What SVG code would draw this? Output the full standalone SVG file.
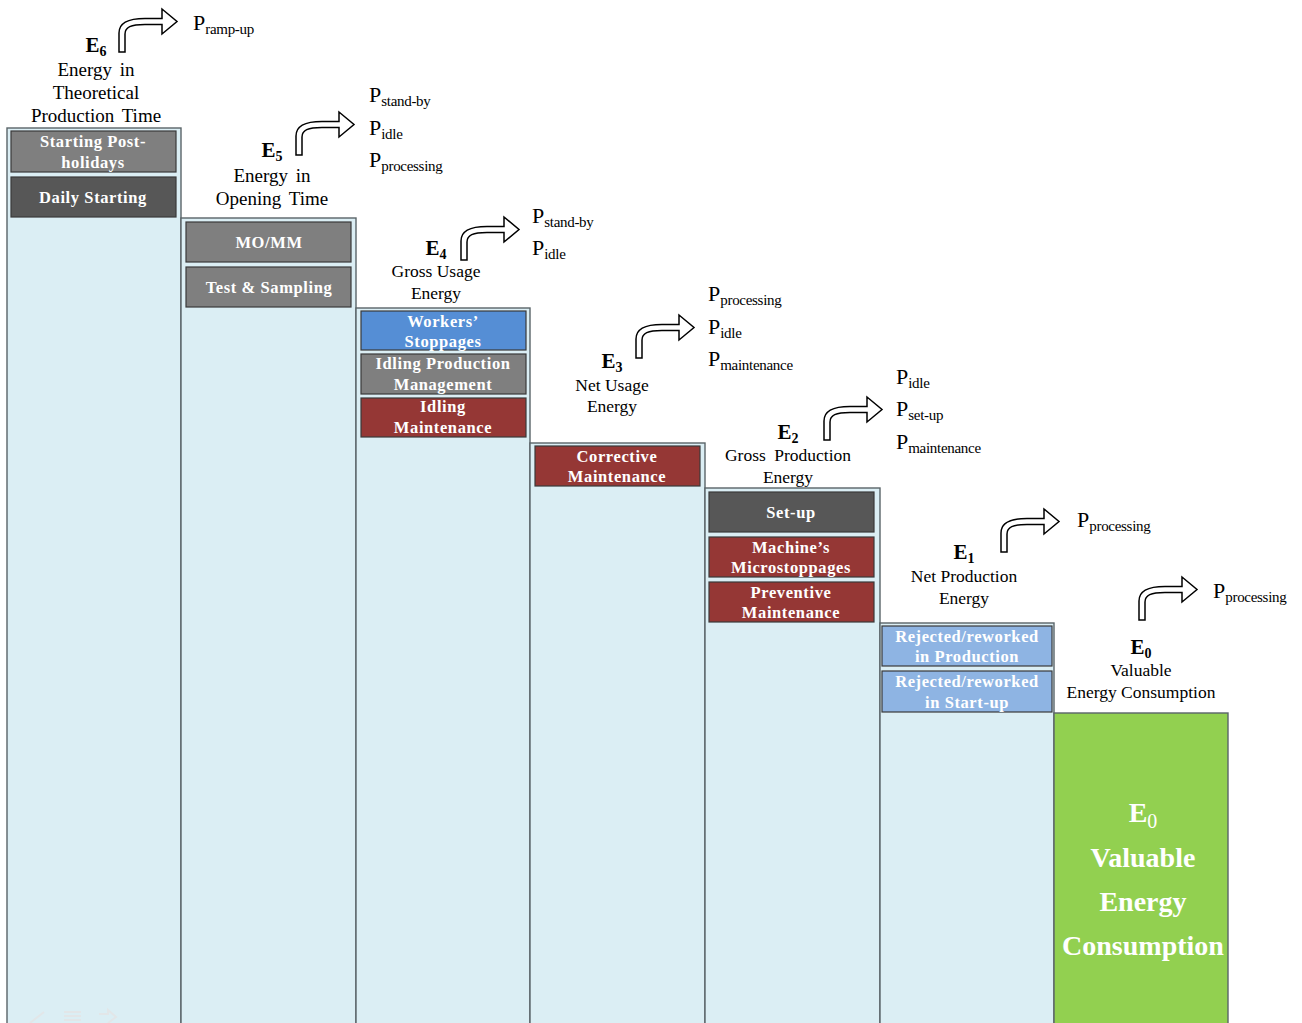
<svg xmlns="http://www.w3.org/2000/svg" width="1302" height="1023" viewBox="0 0 1302 1023">
  <style>
    .col { fill: #DBEEF4; stroke: #5A6468; stroke-width: 1.4; }
    .box { stroke: #3A3A3A; stroke-width: 1.2; }
    .gray { fill: #7F7F7F; }
    .dark { fill: #575757; }
    .blue { fill: #558ED5; }
    .red { fill: #953735; }
    .lblue { fill: #8EB4E3; }
    .bt { font-family: "Liberation Serif", "Times New Roman", serif; font-weight: bold; font-size: 16.5px; letter-spacing: 0.6px; fill: #FFFFFF; text-anchor: middle; }
    .lab { font-family: "Liberation Serif", "Times New Roman", serif; font-size: 17.5px; fill: #000; text-anchor: middle; }
    .labL { font-family: "Liberation Serif", "Times New Roman", serif; font-size: 19px; fill: #000; text-anchor: middle; word-spacing: 3px; }
    .eh { font-family: "Liberation Serif", "Times New Roman", serif; font-weight: bold; font-size: 21px; fill: #000; text-anchor: middle; }
    .es { font-size: 14px; }
    .pm { font-family: "Liberation Serif", "Times New Roman", serif; font-size: 22px; fill: #000; }
    .ps { font-size: 15px; letter-spacing: -0.3px; }
    .arrow { fill: #FFFFFF; stroke: #000; stroke-width: 1.5; stroke-linejoin: miter; }
    .big { font-family: "Liberation Serif", "Times New Roman", serif; font-weight: bold; font-size: 28px; fill: #FFFFFF; text-anchor: middle; }
  </style>
  <defs>
    <!-- bent arrow, origin at the lower-left corner of its stem -->
    <path id="bent" class="arrow" d="M0,0 L0,-19 C0,-29 8,-33.5 26,-33.5 L43,-33.5 L43,-43 L58,-30.5 L43,-18 L43,-27.5 L26,-27.5 C12,-27.5 6,-25 6,-18 L6,0 Z"/>
  </defs>
  <rect width="1302" height="1023" fill="#FFFFFF"/>

  <!-- E6: theoretical production time -->
  <g id="col-e6">
    <rect class="col" x="7" y="128" width="174" height="900"/>
    <rect class="box gray" x="11" y="131" width="165" height="41"/>
    <text class="bt" x="93" y="147">Starting Post-</text>
    <text class="bt" x="93" y="168">holidays</text>
    <rect class="box dark" x="11" y="177" width="165" height="40"/>
    <text class="bt" x="93" y="203">Daily Starting</text>
    <text class="eh" x="96" y="52">E<tspan class="es" dy="4">6</tspan></text>
    <text class="labL" x="96" y="76">Energy in</text>
    <text class="labL" x="96" y="99">Theoretical</text>
    <text class="labL" x="96" y="122">Production Time</text>
  </g>

  <!-- E5: opening time -->
  <g id="col-e5">
    <rect class="col" x="181" y="218" width="175" height="810"/>
    <rect class="box gray" x="186" y="222" width="165" height="40"/>
    <text class="bt" x="269" y="248">MO/MM</text>
    <rect class="box gray" x="186" y="267" width="165" height="40"/>
    <text class="bt" x="269" y="293">Test &amp; Sampling</text>
    <text class="eh" x="272" y="157">E<tspan class="es" dy="4">5</tspan></text>
    <text class="labL" x="272" y="182">Energy in</text>
    <text class="labL" x="272" y="205">Opening Time</text>
  </g>

  <!-- E4: gross usage energy -->
  <g id="col-e4">
    <rect class="col" x="356" y="308" width="174" height="720"/>
    <rect class="box blue" x="361" y="311" width="165" height="39"/>
    <text class="bt" x="443" y="327">Workers’</text>
    <text class="bt" x="443" y="347">Stoppages</text>
    <rect class="box gray" x="361" y="354" width="165" height="40"/>
    <text class="bt" x="443" y="369">Idling  Production</text>
    <text class="bt" x="443" y="390">Management</text>
    <rect class="box red" x="361" y="398" width="165" height="39"/>
    <text class="bt" x="443" y="412">Idling</text>
    <text class="bt" x="443" y="433">Maintenance</text>
    <text class="eh" x="436" y="255">E<tspan class="es" dy="4">4</tspan></text>
    <text class="lab" x="436" y="277">Gross Usage</text>
    <text class="lab" x="436" y="299">Energy</text>
  </g>

  <!-- E3: net usage energy -->
  <g id="col-e3">
    <rect class="col" x="530" y="443" width="175" height="585"/>
    <rect class="box red" x="535" y="446" width="165" height="40"/>
    <text class="bt" x="617" y="462">Corrective</text>
    <text class="bt" x="617" y="482">Maintenance</text>
    <text class="eh" x="612" y="368">E<tspan class="es" dy="4">3</tspan></text>
    <text class="lab" x="612" y="391">Net Usage</text>
    <text class="lab" x="612" y="412">Energy</text>
  </g>

  <!-- E2: gross production energy -->
  <g id="col-e2">
    <rect class="col" x="705" y="488" width="175" height="540"/>
    <rect class="box dark" x="709" y="492" width="165" height="40"/>
    <text class="bt" x="791" y="518">Set-up</text>
    <rect class="box red" x="709" y="537" width="165" height="40"/>
    <text class="bt" x="791" y="553">Machine’s</text>
    <text class="bt" x="791" y="573">Microstoppages</text>
    <rect class="box red" x="709" y="582" width="165" height="40"/>
    <text class="bt" x="791" y="598">Preventive</text>
    <text class="bt" x="791" y="618">Maintenance</text>
    <text class="eh" x="788" y="439">E<tspan class="es" dy="4">2</tspan></text>
    <text class="lab" x="788" y="461" word-spacing="4">Gross Production</text>
    <text class="lab" x="788" y="483">Energy</text>
  </g>

  <!-- E1: net production energy -->
  <g id="col-e1">
    <rect class="col" x="880" y="623" width="174" height="405"/>
    <rect class="box lblue" x="882" y="626" width="170" height="40"/>
    <text class="bt" x="967" y="642">Rejected/reworked</text>
    <text class="bt" x="967" y="662">in Production</text>
    <rect class="box lblue" x="882" y="671" width="170" height="41"/>
    <text class="bt" x="967" y="687">Rejected/reworked</text>
    <text class="bt" x="967" y="708">in Start-up</text>
    <text class="eh" x="964" y="559">E<tspan class="es" dy="4">1</tspan></text>
    <text class="lab" x="964" y="582">Net Production</text>
    <text class="lab" x="964" y="604">Energy</text>
  </g>

  <!-- E0: valuable energy consumption -->
  <g id="col-e0">
    <rect x="1054" y="713" width="174" height="315" fill="#92D050" stroke="#5A6468" stroke-width="1.4"/>
    <text class="big" x="1143" y="822" font-size="30">E<tspan font-weight="normal" font-size="20" dy="6">0</tspan></text>
    <text class="big" x="1143" y="867">Valuable</text>
    <text class="big" x="1143" y="911">Energy</text>
    <text class="big" x="1143" y="955">Consumption</text>
    <text class="eh" x="1141" y="654">E<tspan class="es" dy="4">0</tspan></text>
    <text class="lab" x="1141" y="676">Valuable</text>
    <text class="lab" x="1141" y="698">Energy Consumption</text>
  </g>

  <!-- bent arrows to power states -->
  <g id="connectors">
    <use href="#bent" x="119" y="52"/>
    <use href="#bent" x="296" y="155"/>
    <use href="#bent" x="461" y="260"/>
    <use href="#bent" x="636" y="358"/>
    <use href="#bent" x="824" y="440"/>
    <use href="#bent" x="1001" y="552"/>
    <use href="#bent" x="1139" y="620"/>
  </g>

  <!-- power state lists -->
  <g id="power-states">
    <text class="pm" x="193" y="30">P<tspan class="ps" dy="4">ramp-up</tspan></text>

    <text class="pm" x="369" y="102">P<tspan class="ps" dy="4">stand-by</tspan></text>
    <text class="pm" x="369" y="135">P<tspan class="ps" dy="4">idle</tspan></text>
    <text class="pm" x="369" y="167">P<tspan class="ps" dy="4">processing</tspan></text>

    <text class="pm" x="532" y="223">P<tspan class="ps" dy="4">stand-by</tspan></text>
    <text class="pm" x="532" y="255">P<tspan class="ps" dy="4">idle</tspan></text>

    <text class="pm" x="708" y="301">P<tspan class="ps" dy="4">processing</tspan></text>
    <text class="pm" x="708" y="334">P<tspan class="ps" dy="4">idle</tspan></text>
    <text class="pm" x="708" y="366">P<tspan class="ps" dy="4">maintenance</tspan></text>

    <text class="pm" x="896" y="384">P<tspan class="ps" dy="4">idle</tspan></text>
    <text class="pm" x="896" y="416">P<tspan class="ps" dy="4">set-up</tspan></text>
    <text class="pm" x="896" y="449">P<tspan class="ps" dy="4">maintenance</tspan></text>

    <text class="pm" x="1077" y="527">P<tspan class="ps" dy="4">processing</tspan></text>
    <text class="pm" x="1213" y="598">P<tspan class="ps" dy="4">processing</tspan></text>
  </g>

  <!-- faint slide controls in the lower-left corner -->
  <g id="controls" fill="none" stroke="#E2E6E8" stroke-width="2">
    <path d="M30,1023 L44,1012"/>
    <path d="M64,1012 H81 M64,1016 H81 M64,1020 H81"/>
    <path d="M99,1014 H108 V1010 L116,1017 L108,1023"/>
  </g>
</svg>
